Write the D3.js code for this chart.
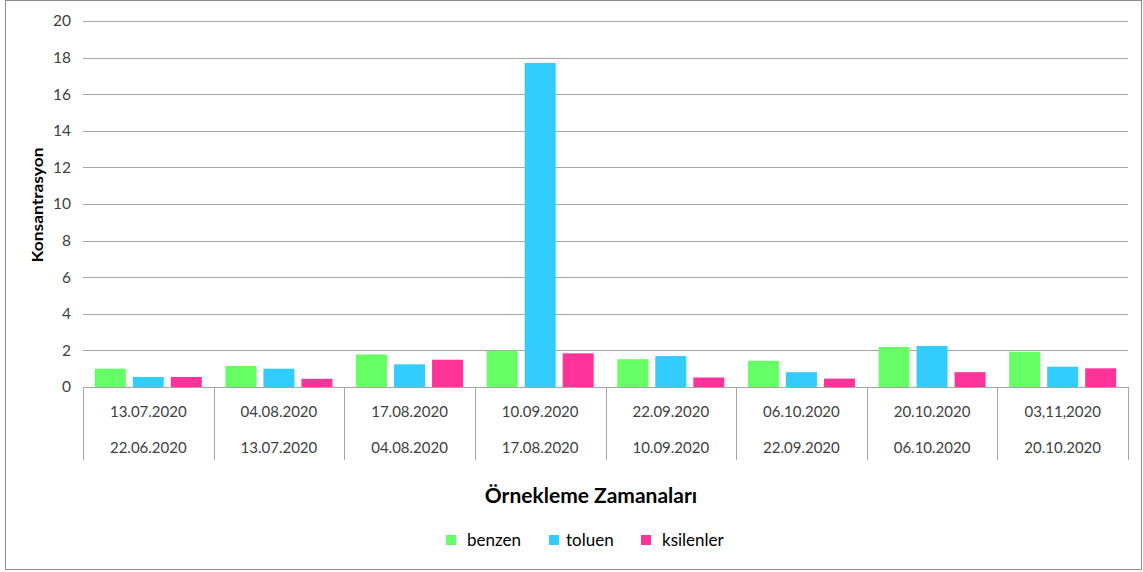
<!DOCTYPE html>
<html>
<head>
<meta charset="utf-8">
<script src="https://cdn.jsdelivr.net/npm/d3@7/dist/d3.min.js"></script>
<style>
  html, body { margin: 0; padding: 0; background: #fff; }
  svg { display: block; font-family: Lato, "Open Sans", sans-serif; }
</style>
</head>
<body>
<svg id="chart" width="1143" height="572"></svg>
<script>
// Sampling periods: end date (top row) and start date (bottom row)
const periodEnd   = ["13.07.2020", "04.08.2020", "17.08.2020", "10.09.2020", "22.09.2020", "06.10.2020", "20.10.2020", "03,11,2020"];
const periodStart = ["22.06.2020", "13.07.2020", "04.08.2020", "17.08.2020", "10.09.2020", "22.09.2020", "06.10.2020", "20.10.2020"];

const seriesNames = ["benzen", "toluen", "ksilenler"];
const benzen    = [1.0, 1.15, 1.78, 1.98, 1.52, 1.43, 2.19, 1.93];
const toluen    = [0.55, 1.0, 1.24, 17.71, 1.69, 0.81, 2.24, 1.11];
const ksilenler = [0.55, 0.45, 1.49, 1.84, 0.52, 0.46, 0.81, 1.02];
const seriesColors = ["#66ff66", "#33ccff", "#ff3399"];

const yTicks = [0, 2, 4, 6, 8, 10, 12, 14, 16, 18, 20];
const yTitle = "Konsantrasyon";
const xTitle = "Örnekleme Zamanaları";

const seriesValues = [benzen, toluen, ksilenler];
const rows = periodEnd.map((d, i) => ({
  key: i,
  end: d,
  start: periodStart[i],
  values: seriesNames.map((s, j) => ({ series: s, color: seriesColors[j], value: seriesValues[j][i] }))
}));

const svg = d3.select("#chart");
const plot = { left: 83, right: 1128, top: 21, bottom: 387 };

// Outer chart border
svg.append("rect")
  .attr("x", 5.5).attr("y", 0.5)
  .attr("width", 1136).attr("height", 569)
  .attr("fill", "none").attr("stroke", "#8c8c8c").attr("stroke-width", 1);

const x0 = d3.scaleBand()
  .domain(rows.map(r => r.key))
  .range([plot.left, plot.right])
  .padding(0);

const groupPad = 11.8;
const x1 = d3.scaleBand()
  .domain(seriesNames)
  .range([groupPad, x0.bandwidth() - groupPad])
  .paddingInner(0.184)
  .paddingOuter(0);

const y = d3.scaleLinear().domain([0, 20]).range([plot.bottom, plot.top]);

// Horizontal gridlines and value labels
const yAxis = d3.axisLeft(y)
  .tickValues(yTicks)
  .tickSize(-(plot.right - plot.left))
  .tickPadding(12)
  .tickFormat(d3.format("d"));

const gy = svg.append("g")
  .attr("transform", `translate(${plot.left},0)`)
  .call(yAxis);
gy.select(".domain").remove();
gy.selectAll(".tick line")
  .attr("stroke", "#a6a6a6")
  .attr("stroke-width", 1)
  .attr("shape-rendering", "crispEdges")
  .filter(d => d === 0).remove();
gy.selectAll(".tick text")
  .attr("fill", "#404040")
  .attr("font-size", 15.5)
  .attr("font-family", "Lato, sans-serif");

// Bars
const groups = svg.append("g").selectAll("g")
  .data(rows)
  .join("g")
  .attr("transform", d => `translate(${x0(d.key)},0)`);

groups.selectAll("rect")
  .data(d => d.values)
  .join("rect")
  .attr("x", d => x1(d.series))
  .attr("y", d => y(d.value))
  .attr("width", x1.bandwidth())
  .attr("height", d => y(0) - y(d.value))
  .attr("fill", d => d.color);

// Category axis line and table-style separators
const boxBottom = 460;
const ax = svg.append("g").attr("shape-rendering", "crispEdges");
ax.append("line")
  .attr("x1", plot.left).attr("x2", plot.right)
  .attr("y1", y(0)).attr("y2", y(0))
  .attr("stroke", "#a6a6a6");
const bounds = rows.map(r => x0(r.key)).concat([plot.right]);
ax.selectAll("line.sep")
  .data(bounds)
  .join("line")
  .attr("class", "sep")
  .attr("x1", d => Math.round(d) + 0.5).attr("x2", d => Math.round(d) + 0.5)
  .attr("y1", y(0)).attr("y2", boxBottom)
  .attr("stroke", "#a6a6a6");

// Two-row date labels
const labels = svg.append("g")
  .attr("font-size", 15)
  .attr("fill", "#404040")
  .attr("text-anchor", "middle");
labels.selectAll("text.end")
  .data(rows)
  .join("text")
  .attr("class", "end")
  .attr("x", d => x0(d.key) + x0.bandwidth() / 2)
  .attr("y", 417)
  .text(d => d.end);
labels.selectAll("text.start")
  .data(rows)
  .join("text")
  .attr("class", "start")
  .attr("x", d => x0(d.key) + x0.bandwidth() / 2)
  .attr("y", 453)
  .text(d => d.start);

// Axis titles
svg.append("text")
  .attr("transform", `translate(43,${(plot.top + plot.bottom) / 2 + 1}) rotate(-90)`)
  .attr("text-anchor", "middle")
  .attr("font-size", 15)
  .attr("font-weight", "bold")
  .attr("fill", "#000")
  .attr("textLength", 115)
  .attr("lengthAdjust", "spacingAndGlyphs")
  .text(yTitle);

svg.append("text")
  .attr("x", 591).attr("y", 503)
  .attr("text-anchor", "middle")
  .attr("font-size", 21)
  .attr("font-weight", "bold")
  .attr("fill", "#000")
  .text(xTitle);

// Legend
const legendX = [446, 549, 641];
const legendTextX = [467, 566, 662];
const legend = svg.append("g");
seriesNames.forEach((s, i) => {
  legend.append("rect")
    .attr("x", legendX[i]).attr("y", 535)
    .attr("width", 10).attr("height", 10)
    .attr("fill", seriesColors[i]);
  legend.append("text")
    .attr("x", legendTextX[i]).attr("y", 546)
    .attr("font-size", 17)
    .attr("fill", "#000")
    .text(s);
});
</script>
</body>
</html>
